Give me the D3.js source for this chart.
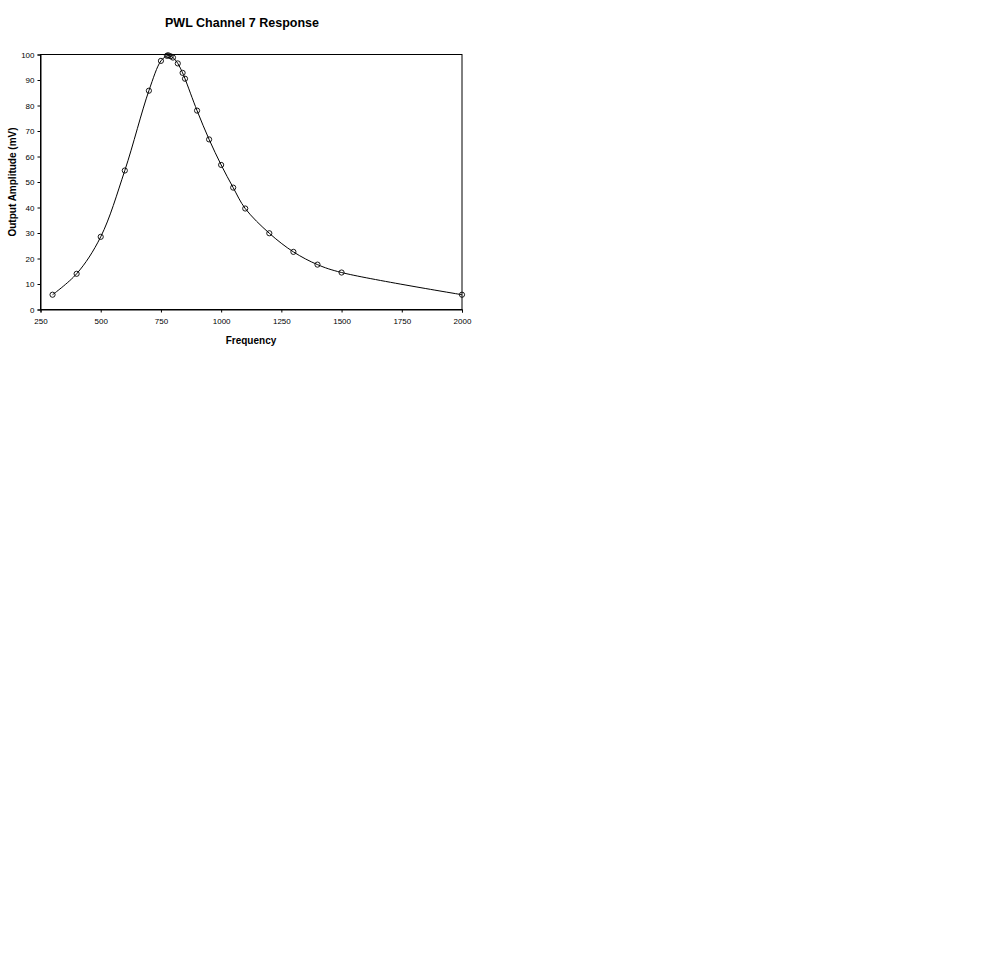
<!DOCTYPE html>
<html>
<head>
<meta charset="utf-8">
<script src="https://cdn.jsdelivr.net/npm/d3@7"></script>
<style>
  body { margin: 0; background: #fff; }
  svg text { font-family: "Liberation Sans", Arial, sans-serif; fill: #000; }
</style>
</head>
<body>
<svg id="chart" width="1000" height="972"></svg>
<script>
// readings
var frequency = [300, 400, 500, 600, 700, 750, 775, 780, 790, 800, 820, 840, 850, 900, 950, 1000, 1050, 1100, 1200, 1300, 1400, 1500, 2000];
var amplitude = [5.8, 14, 28.5, 54.5, 85.8, 97.5, 99.5, 99.7, 99.3, 98.8, 96.5, 92.8, 90.5, 78, 66.7, 56.7, 47.8, 39.6, 29.9, 22.6, 17.6, 14.5, 5.8];
var xTicks = [250, 500, 750, 1000, 1250, 1500, 1750, 2000];
var yTicks = [0, 10, 20, 30, 40, 50, 60, 70, 80, 90, 100];

var svg = d3.select("#chart");
var plot = {left: 40.5, right: 462, top: 54.5, bottom: 309.5};

var x = d3.scaleLinear().domain([250, 2000]).range([plot.left, plot.right]);
var y = d3.scaleLinear().domain([0, 100]).range([plot.bottom, plot.top]);

var data = frequency.map(function(f, i) { return {f: f, a: amplitude[i]}; });

// title
svg.append("text")
  .attr("x", 242)
  .attr("y", 27)
  .attr("text-anchor", "middle")
  .style("font-size", "12.5px")
  .style("font-weight", "bold")
  .text("PWL Channel 7 Response");

// plot frame
svg.append("rect")
  .attr("x", plot.left)
  .attr("y", plot.top)
  .attr("width", plot.right - plot.left)
  .attr("height", plot.bottom - plot.top)
  .attr("fill", "none")
  .attr("stroke", "#000")
  .attr("stroke-width", 1);

var xAxis = svg.append("g")
  .attr("transform", "translate(0," + plot.bottom + ")")
  .call(d3.axisBottom(x).tickValues(xTicks).tickSize(3).tickPadding(6).tickFormat(d3.format("d")));

var yAxis = svg.append("g")
  .attr("transform", "translate(" + plot.left + ",0)")
  .call(d3.axisLeft(y).tickValues(yTicks).tickSize(3).tickPadding(3).tickFormat(d3.format("d")));

[xAxis, yAxis].forEach(function(a) {
  a.select(".domain").attr("stroke", "#000");
  a.selectAll(".tick line").attr("stroke", "#000");
  a.selectAll(".tick text")
    .attr("fill", "#000")
    .style("font-family", "'Liberation Sans', Arial, sans-serif")
    .style("font-size", "8px");
});

// axis titles
svg.append("text")
  .attr("x", 251)
  .attr("y", 344)
  .attr("text-anchor", "middle")
  .style("font-size", "10px")
  .style("font-weight", "bold")
  .text("Frequency");

svg.append("text")
  .attr("transform", "translate(16," + ((plot.top + plot.bottom) / 2) + ") rotate(-90)")
  .attr("text-anchor", "middle")
  .style("font-size", "10px")
  .style("font-weight", "bold")
  .text("Output Amplitude (mV)");

// smoothed response line
var line = d3.line()
  .x(function(d) { return x(d.f); })
  .y(function(d) { return y(d.a); })
  .curve(d3.curveCatmullRom.alpha(0.5));

svg.append("path")
  .datum(data)
  .attr("d", line)
  .attr("fill", "none")
  .attr("stroke", "#000")
  .attr("stroke-width", 1);

svg.selectAll(".pt")
  .data(data)
  .enter().append("circle")
  .attr("class", "pt")
  .attr("cx", function(d) { return x(d.f); })
  .attr("cy", function(d) { return y(d.a); })
  .attr("r", 2.6)
  .attr("fill", "none")
  .attr("stroke", "#000")
  .attr("stroke-width", 0.9);
</script>
</body>
</html>
